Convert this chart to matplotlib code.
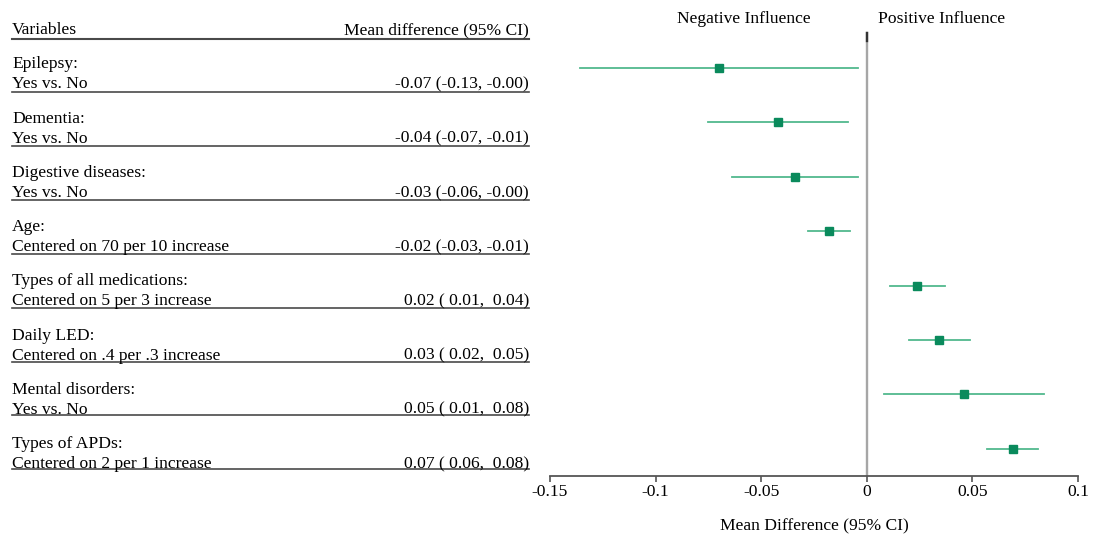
import matplotlib
matplotlib.use("Agg")
import matplotlib.pyplot as plt

plt.rcParams['font.family'] = ['Liberation Serif', 'DejaVu Serif']

# rows, top to bottom
var_names = ["Epilepsy:", "Dementia:", "Digestive diseases:", "Age:",
             "Types of all medications:", "Daily LED:", "Mental disorders:",
             "Types of APDs:"]
var_detail = ["Yes vs. No", "Yes vs. No", "Yes vs. No", "Centered on 70 per 10 increase",
              "Centered on 5 per 3 increase", "Centered on .4 per .3 increase",
              "Yes vs. No", "Centered on 2 per 1 increase"]
ci_text = ["-0.07 (-0.13, -0.00)", "-0.04 (-0.07, -0.01)", "-0.03 (-0.06, -0.00)",
           "-0.02 (-0.03, -0.01)", "0.02 ( 0.01,  0.04)", "0.03 ( 0.02,  0.05)",
           "0.05 ( 0.01,  0.08)", "0.07 ( 0.06,  0.08)"]
est = [-0.070, -0.042, -0.034, -0.018, 0.024, 0.034, 0.046, 0.069]
lo = [-0.136, -0.075, -0.064, -0.028, 0.011, 0.020, 0.008, 0.057]
hi = [-0.004, -0.009, -0.004, -0.008, 0.037, 0.049, 0.084, 0.081]
xticks = [-0.15, -0.1, -0.05, 0, 0.05, 0.1]
xtick_labels = ["-0.15", "-0.1", "-0.05", "0", "0.05", "0.1"]

W, H = 1096, 536
fig = plt.figure(figsize=(W / 100, H / 100), dpi=100)
fs = 12.6
axis_px = 476

# left table, drawn in pixel coordinates
tab = fig.add_axes([0, 0, 1, 1])
tab.set_xlim(0, W)
tab.set_ylim(H, 0)
tab.axis('off')
x0, x1 = 12, 529
tab.text(x0, 30, "Variables", fontsize=fs, va='center', ha='left')
tab.text(x1, 30, "Mean difference (95% CI)", fontsize=fs, va='center', ha='right')
tab.plot([x0, x1], [39, 39], color='#4a4a4a', lw=1.5)
for i in range(len(var_names)):
    y = 64.5 + 54.2 * i
    tab.text(x0, y, var_names[i], fontsize=fs, va='center', ha='left')
    tab.text(x0, y + 20, var_detail[i], fontsize=fs, va='center', ha='left')
    tab.text(x1, y + 20, ci_text[i], fontsize=fs, va='center', ha='right')
    tab.plot([x0, x1], [92 + 53.9 * i] * 2, color='#4a4a4a', lw=1.2)

# forest plot
ax = fig.add_axes([550 / W, 1 - axis_px / H, 528 / W, axis_px / H])
ax.set_xlim(-0.15, 0.1)
ax.set_ylim(axis_px, 0)
ax.patch.set_alpha(0)
for s in ['top', 'right', 'left']:
    ax.spines[s].set_visible(False)
ax.spines['bottom'].set_color('#555555')
ax.spines['bottom'].set_linewidth(1.3)
ax.set_yticks([])
ax.set_xticks(xticks)
ax.set_xticklabels(xtick_labels)
ax.tick_params(axis='x', labelsize=fs, length=4, width=1.2, color='#555555', pad=2)

ax.plot([0, 0], [33, axis_px], color='#a6a6a6', lw=1.7)
ax.plot([0, 0], [33, 41], color='#333333', lw=1.7)

for i in range(len(est)):
    y = 68 + 54.4 * i
    ax.plot([lo[i], hi[i]], [y, y], color='#52b98e', lw=1.3)
    ax.plot(est[i], y, marker='s', color='#0a8a5c', markersize=5.5)

ax.text(-0.058, 19, "Negative Influence", fontsize=fs, ha='center', va='center')
ax.text(0.0355, 19, "Positive Influence", fontsize=fs, ha='center', va='center')
ax.set_xlabel("Mean Difference (95% CI)", fontsize=fs, labelpad=13)

fig.savefig("out.png", dpi=100, facecolor='white')
